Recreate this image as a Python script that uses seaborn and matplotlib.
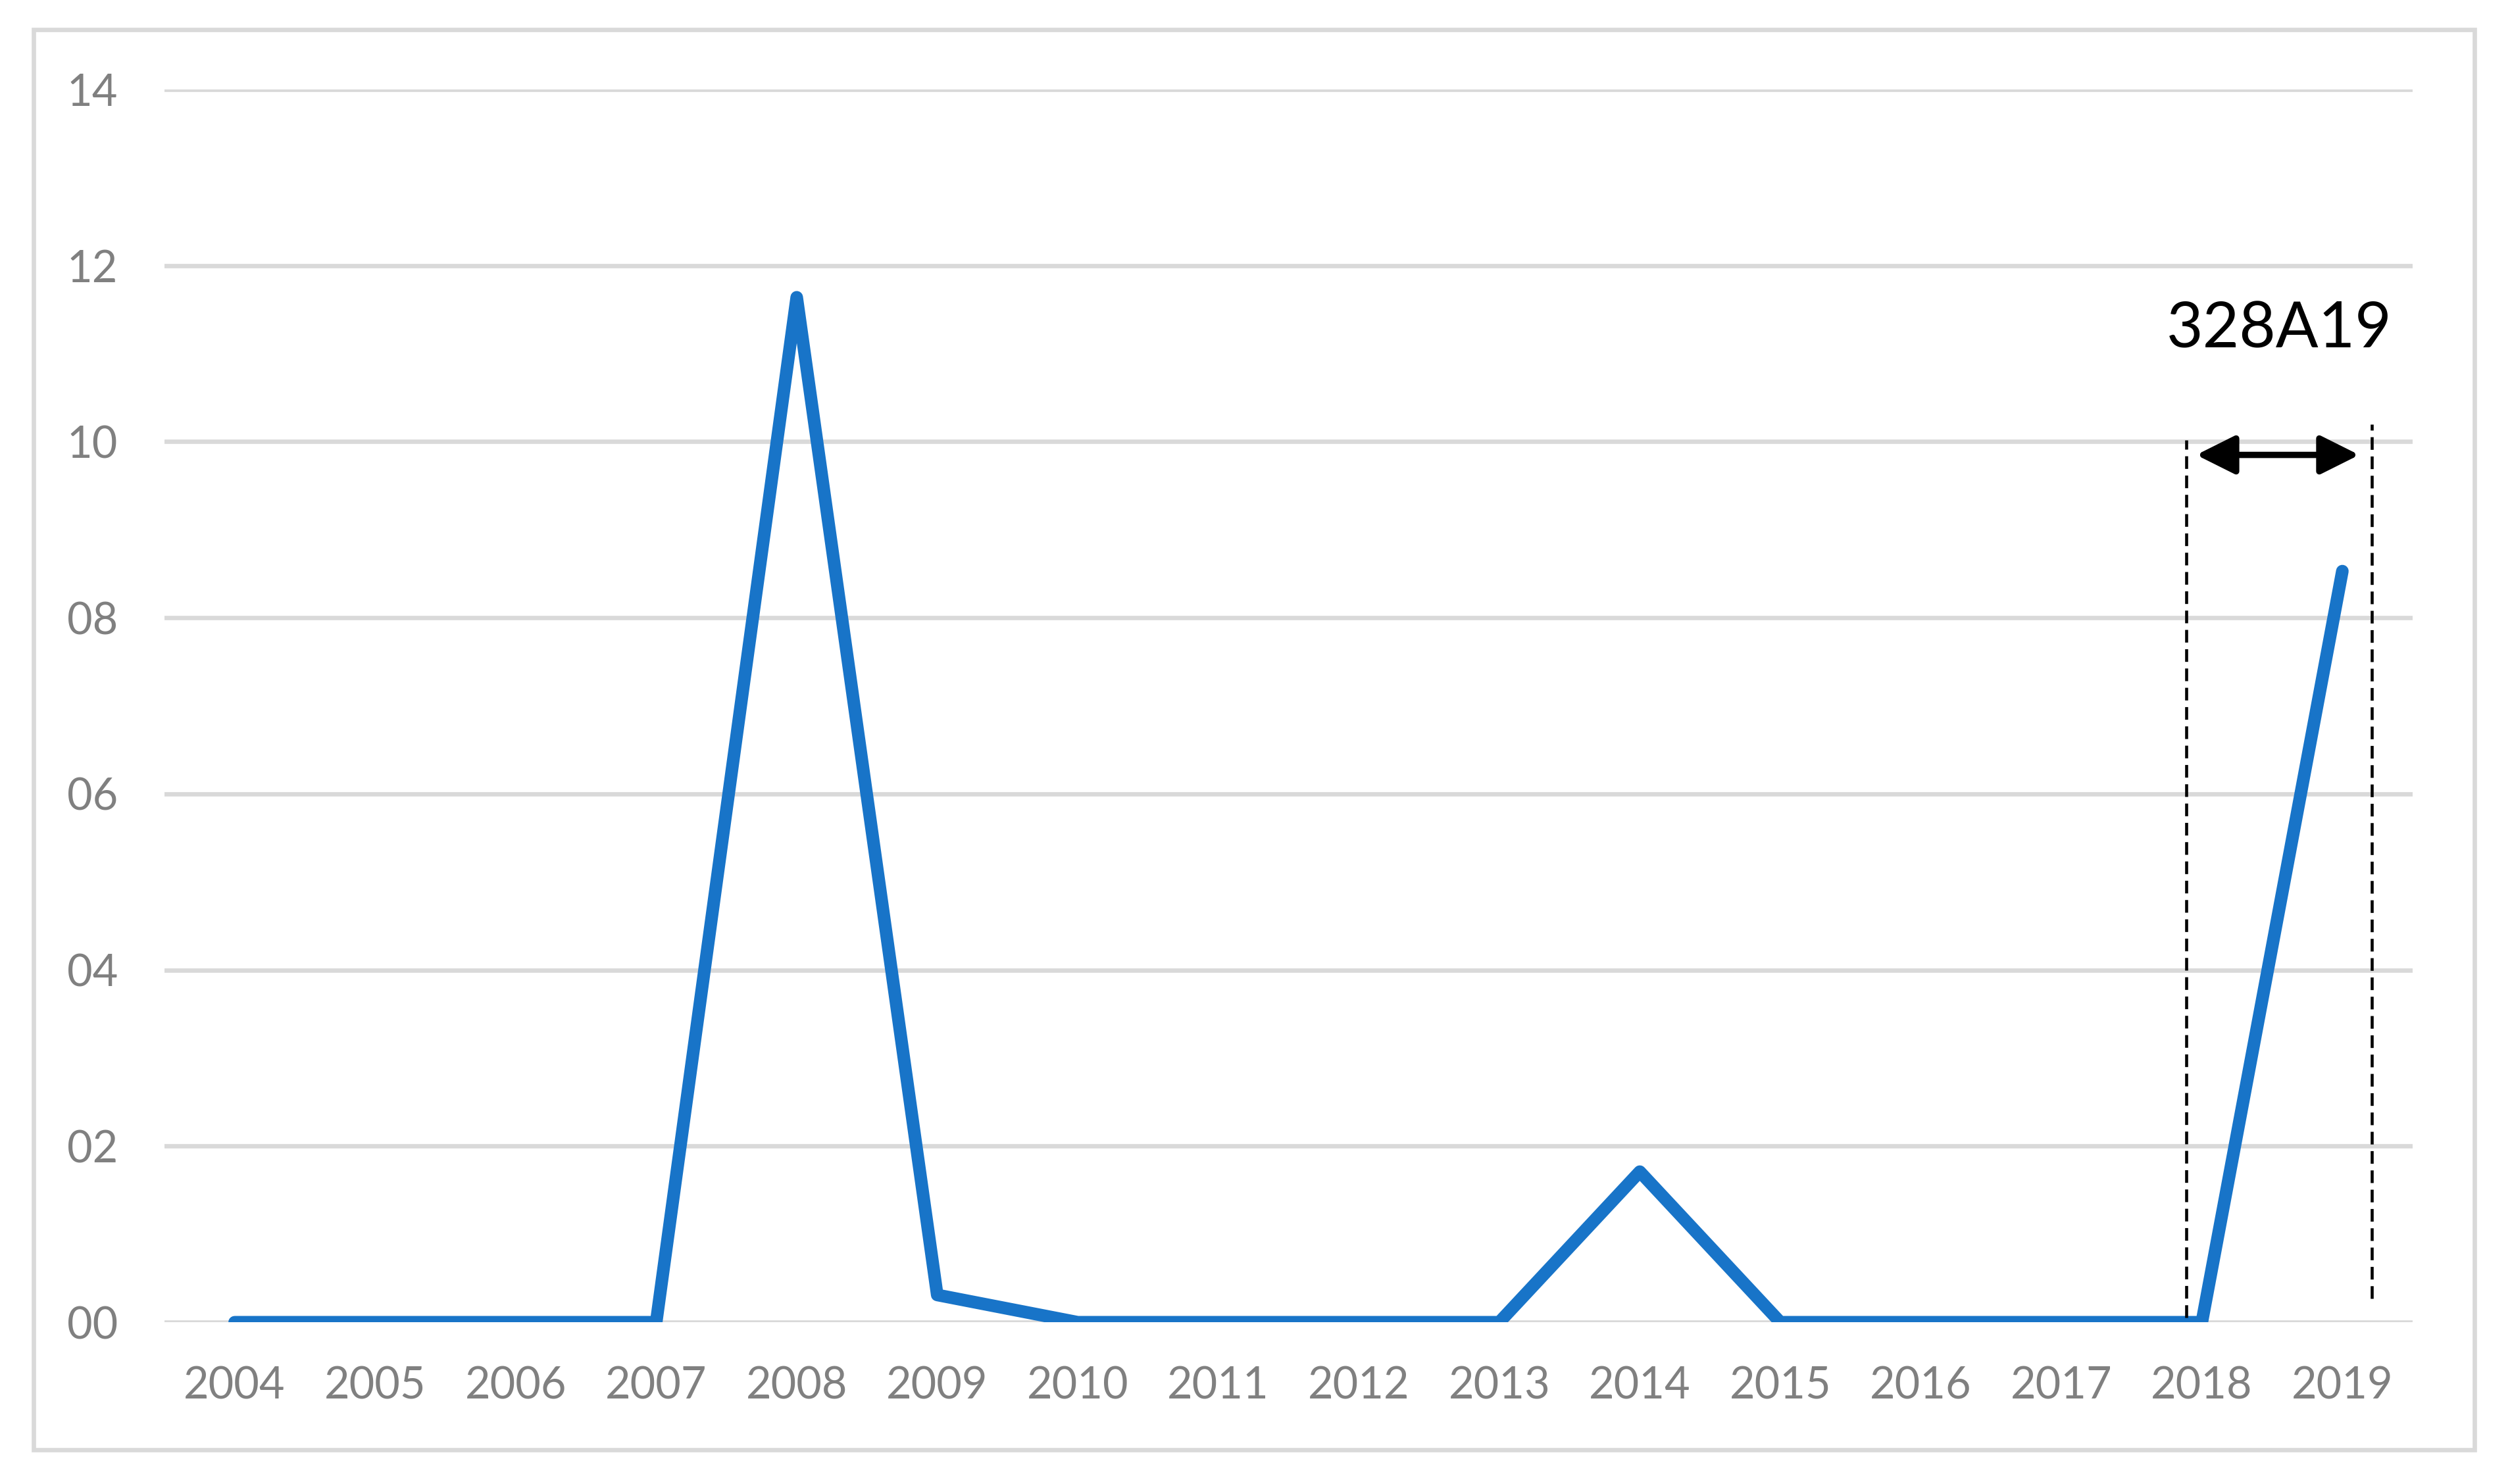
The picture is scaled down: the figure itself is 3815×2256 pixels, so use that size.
import numpy as np
import pandas as pd
import matplotlib.pyplot as plt
import matplotlib.ticker as ticker
from matplotlib.patches import Rectangle
import seaborn as sns

# data
years = [2004, 2005, 2006, 2007, 2008, 2009, 2010, 2011,
         2012, 2013, 2014, 2015, 2016, 2017, 2018, 2019]
values = [0, 0, 0, 0, 11.64, 0.31, 0, 0,
          0, 0, 1.71, 0, 0, 0, 0, 8.53]
y_ticks = [0, 2, 4, 6, 8, 10, 12, 14]
period_label = '328A19'

df = pd.DataFrame({'year': years, 'value': values})

sns.set_style('white')
plt.rcParams['font.family'] = ['Lato', 'DejaVu Sans']

grid_c = '#d9d9d9'
text_c = '#808080'
line_c = '#1874c8'

fig = plt.figure(figsize=(3815 / 300, 2256 / 300), dpi=300)
ax = fig.add_axes([0.0655, 0.109, 0.8957, 0.8307])

sns.lineplot(data=df, x='year', y='value', ax=ax, color=line_c,
             linewidth=4.6, solid_capstyle='round', solid_joinstyle='round',
             zorder=3)

# axes styling, Excel-like
ax.set_xlim(years[0] - 0.5, years[-1] + 0.5)
ax.set_ylim(y_ticks[0], y_ticks[-1])
ax.set_xticks(years)
ax.set_yticks(y_ticks)
ax.yaxis.set_major_formatter(ticker.FuncFormatter(lambda v, p: f'{int(round(v)):02d}'))
ax.tick_params(axis='both', length=0, labelsize=16, labelcolor=text_c)
ax.tick_params(axis='y', pad=17)
ax.tick_params(axis='x', pad=16)
ax.set_xlabel('')
ax.set_ylabel('')
ax.grid(axis='y', color=grid_c, linewidth=1.6)
ax.grid(axis='x', visible=False)
for s in ax.spines.values():
    s.set_visible(False)
ax.set_clip_on(False)

# period marker for the last year
ax.plot([2017.89, 2017.89], [0.05, 10.02], color='black', linewidth=1.1,
        dashes=(4.2, 2.2), zorder=4, clip_on=False)
ax.plot([2019.21, 2019.21], [0.27, 10.2], color='black', linewidth=1.1,
        dashes=(4.2, 2.2), zorder=4, clip_on=False)
ax.annotate('', xy=(2019.12, 9.85), xytext=(2017.96, 9.85),
            arrowprops=dict(arrowstyle='<|-|>', color='black', lw=2.3,
                            mutation_scale=30, shrinkA=0, shrinkB=0),
            zorder=5)
ax.text(2018.55, 11.27, period_label, ha='center', va='center',
        fontsize=23, color='black')

# light frame around the whole chart
fig.patches.append(Rectangle((51 / 3815, 1 - 2204 / 2256),
                             (3761 - 51) / 3815, (2204 - 45) / 2256,
                             transform=fig.transFigure, fill=False,
                             edgecolor=grid_c, linewidth=1.6))

plt.savefig('out.png', dpi=300)
plt.close()
